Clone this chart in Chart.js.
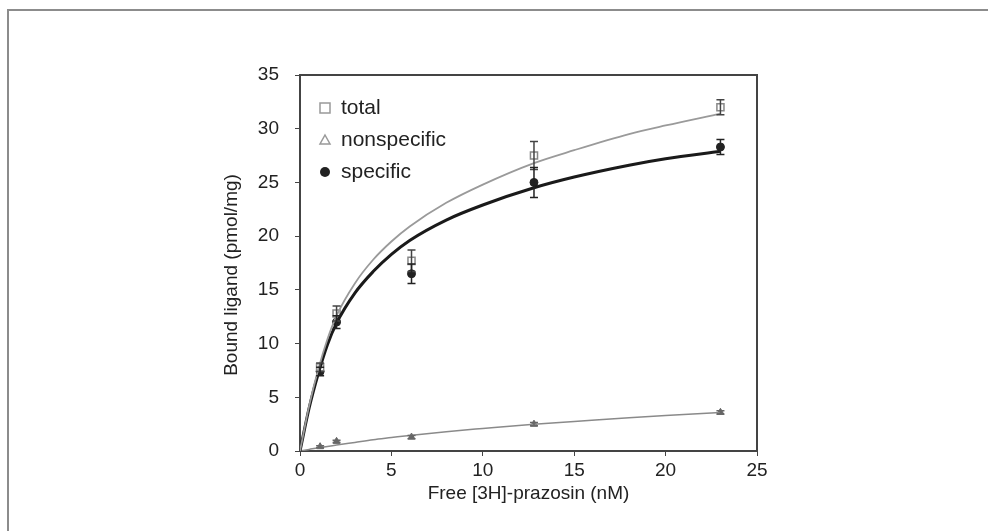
<!DOCTYPE html>
<html>
<head>
<meta charset="utf-8">
<script src="https://cdn.jsdelivr.net/npm/chart.js@4"></script>
<style>
    html, body { margin: 0; padding: 0; background: #fff; }
    #wrap { position: relative; width: 988px; height: 531px; overflow: hidden; }
    #frame { position: absolute; left: 7px; top: 9px; width: 990px; height: 540px;
             border-top: 2px solid #8c8c8c; border-left: 2px solid #8c8c8c; }
    canvas { position: absolute; left: 0; top: 0; }
</style>
</head>
<body>
<div id="wrap">
    <div id="frame"></div>
    <canvas id="bindingChart" width="988" height="531"></canvas>
</div>
<script>
// Measured points (free ligand, nM)
const freeConc = [1.1, 2.0, 6.1, 12.8, 23.0];
const totalBound = [7.8, 12.8, 17.7, 27.5, 32.0];
const totalErr = [0.4, 0.7, 1.0, 1.3, 0.7];
const specificBound = [7.4, 12.0, 16.5, 25.0, 28.3];
const specificErr = [0.4, 0.6, 0.9, 1.4, 0.7];
const nonspecificBound = [0.4, 0.9, 1.3, 2.5, 3.6];
const nonspecificErr = [0.1, 0.1, 0.15, 0.15, 0.15];

// Fitted curves
const curveX = [0, 0.5, 1, 1.5, 2, 3, 4, 5, 6, 8, 10, 12.8, 15, 18, 20, 23];
const totalFit = [0, 4.2, 7.6, 10.4, 12.6, 15.6, 17.8, 19.5, 20.9, 23.1, 24.8, 26.8, 28.0, 29.5, 30.3, 31.4];
const specificFit = [0, 4.0, 7.2, 9.9, 11.9, 14.7, 16.7, 18.3, 19.6, 21.5, 22.9, 24.5, 25.5, 26.6, 27.2, 27.9];
const nonspecificFit = [0, 0.15, 0.3, 0.42, 0.55, 0.8, 1.05, 1.25, 1.45, 1.8, 2.1, 2.5, 2.75, 3.1, 3.3, 3.58];

const xTicks = [0, 5, 10, 15, 20, 25];
const yTicks = [0, 5, 10, 15, 20, 25, 30, 35];

const FONT = 'Liberation Sans, Arial, Helvetica, sans-serif';

function pts(xs, ys) {
    return xs.map((x, i) => ({ x: x, y: ys[i] }));
}

// Error bars, plot box, legend and y title
const extrasPlugin = {
    id: 'extras',
    afterDatasetsDraw(chart) {
        const ctx = chart.ctx;
        const xs = chart.scales.x, ys = chart.scales.y;
        const sets = [
            [totalBound, totalErr, '#444'],
            [specificBound, specificErr, '#222'],
            [nonspecificBound, nonspecificErr, '#666']
        ];
        ctx.save();
        ctx.lineWidth = 1.5;
        sets.forEach(([vals, errs, col]) => {
            ctx.strokeStyle = col;
            vals.forEach((v, i) => {
                const px = xs.getPixelForValue(freeConc[i]);
                const top = ys.getPixelForValue(v + errs[i]);
                const bot = ys.getPixelForValue(v - errs[i]);
                ctx.beginPath();
                ctx.moveTo(px, top); ctx.lineTo(px, bot);
                ctx.moveTo(px - 4, top); ctx.lineTo(px + 4, top);
                ctx.moveTo(px - 4, bot); ctx.lineTo(px + 4, bot);
                ctx.stroke();
            });
        });
        ctx.restore();
    },
    afterDraw(chart) {
        const ctx = chart.ctx;
        const a = chart.chartArea;
        ctx.save();
        ctx.strokeStyle = '#444';
        ctx.lineWidth = 2;
        ctx.beginPath();
        ctx.moveTo(a.left, a.top); ctx.lineTo(a.right, a.top); ctx.lineTo(a.right, a.bottom);
        ctx.stroke();

        // legend
        const lx = a.left + 25, tx = a.left + 41;
        const rows = [a.top + 33, a.top + 65, a.top + 97];
        ctx.fillStyle = '#222';
        ctx.font = '21px ' + FONT;
        ctx.textBaseline = 'middle';
        ctx.fillText('total', tx, rows[0]);
        ctx.fillText('nonspecific', tx, rows[1]);
        ctx.fillText('specific', tx, rows[2]);

        ctx.strokeStyle = '#999';
        ctx.lineWidth = 1.5;
        ctx.strokeRect(lx - 5, rows[0] - 5, 10, 10);
        ctx.beginPath();
        ctx.moveTo(lx, rows[1] - 5); ctx.lineTo(lx + 5, rows[1] + 4); ctx.lineTo(lx - 5, rows[1] + 4);
        ctx.closePath();
        ctx.stroke();
        ctx.fillStyle = '#222';
        ctx.beginPath();
        ctx.arc(lx, rows[2], 5, 0, Math.PI * 2);
        ctx.fill();

        // y axis title
        ctx.translate(232, 275);
        ctx.rotate(-Math.PI / 2);
        ctx.textAlign = 'center';
        ctx.textBaseline = 'middle';
        ctx.font = '19px ' + FONT;
        ctx.fillText('Bound ligand (pmol/mg)', 0, 0);
        ctx.restore();
    }
};

new Chart(document.getElementById('bindingChart'), {
    type: 'scatter',
    data: {
        datasets: [
            {
                type: 'line',
                data: pts(curveX, totalFit),
                borderColor: '#9a9a9a',
                borderWidth: 1.8,
                pointRadius: 0,
                cubicInterpolationMode: 'monotone'
            },
            {
                type: 'line',
                data: pts(curveX, specificFit),
                borderColor: '#1a1a1a',
                borderWidth: 3,
                pointRadius: 0,
                cubicInterpolationMode: 'monotone'
            },
            {
                type: 'line',
                data: pts(curveX, nonspecificFit),
                borderColor: '#8a8a8a',
                borderWidth: 1.5,
                pointRadius: 0,
                cubicInterpolationMode: 'monotone'
            },
            {
                data: pts(freeConc, totalBound),
                pointStyle: 'rect',
                pointRadius: 5,
                backgroundColor: '#fff',
                borderColor: '#888',
                borderWidth: 1.5
            },
            {
                data: pts(freeConc, nonspecificBound),
                pointStyle: 'triangle',
                pointRadius: 4,
                backgroundColor: '#666',
                borderColor: '#666',
                borderWidth: 1
            },
            {
                data: pts(freeConc, specificBound),
                pointStyle: 'circle',
                pointRadius: 4,
                backgroundColor: '#222',
                borderColor: '#222',
                borderWidth: 1
            }
        ]
    },
    options: {
        responsive: false,
        animation: false,
        layout: { padding: { left: 217, right: 231, top: 75, bottom: 22 } },
        plugins: { legend: { display: false }, tooltip: { enabled: false } },
        scales: {
            x: {
                type: 'linear',
                min: 0, max: 25,
                afterFit: s => { s.height = 58; },
                afterBuildTicks: s => { s.ticks = xTicks.map(v => ({ value: v })); },
                grid: { drawOnChartArea: false, drawTicks: true, tickLength: 5, tickColor: '#444' },
                border: { color: '#444', width: 2 },
                ticks: { color: '#222', font: { family: FONT, size: 19 }, padding: 3 },
                title: { display: true, text: 'Free [3H]-prazosin (nM)', color: '#222',
                         font: { family: FONT, size: 19 }, padding: { top: 4, bottom: 4 } }
            },
            y: {
                type: 'linear',
                min: 0, max: 35,
                afterFit: s => { s.width = 83; },
                afterBuildTicks: s => { s.ticks = yTicks.map(v => ({ value: v })); },
                grid: { drawOnChartArea: false, drawTicks: true, tickLength: 5, tickColor: '#444' },
                border: { color: '#444', width: 2 },
                ticks: { color: '#222', font: { family: FONT, size: 19 }, padding: 16 },
                title: { display: false }
            }
        }
    },
    plugins: [extrasPlugin]
});
</script>
</body>
</html>
